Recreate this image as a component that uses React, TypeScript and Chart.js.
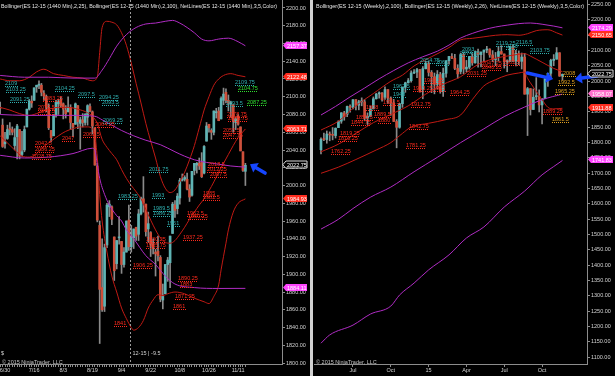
import React, { useEffect, useRef } from 'react';
import { Chart, registerables } from 'chart.js';

Chart.register(...registerables);

const FONT = '"Liberation Sans", Arial, Helvetica, sans-serif';

// ================= LEFT PANEL : ES 12-15 daily (1440 Min) =================
const dailyDates = ['6/26','6/29','6/30','7/1','7/2','7/3','7/6','7/7','7/8','7/9','7/10','7/13','7/14','7/15','7/16','7/17','7/20','7/21','7/22','7/23','7/24','7/27','7/28','7/29','7/30','7/31','8/3','8/4','8/5','8/6','8/7','8/10','8/11','8/12','8/13','8/14','8/17','8/18','8/19','8/20','8/21','8/24','8/25','8/26','8/27','8/28','8/31','9/1','9/2','9/3','9/4','9/7','9/8','9/9','9/10','9/11','9/14','9/15','9/16','9/17','9/18','9/21','9/22','9/23','9/24','9/25','9/28','9/29','9/30','10/1','10/2','10/5','10/6','10/7','10/8','10/9','10/12','10/13','10/14','10/15','10/16','10/19','10/20','10/21','10/22','10/23','10/26','10/27','10/28','10/29','10/30','11/2','11/3','11/4','11/5','11/6','11/9','11/10','11/11','11/12','11/13','11/16'];
const dailyTickDates = ['6/30','7/16','8/3','8/19','9/4','9/22','10/8','10/26','11/11'];

const dailyOpen = [2088,2068,2047,2053,2064,2063,2045,2055,2063,2035,
 2040,2066,2086,2095,2096,2111,2113,2113,2104,2100,
 2088,2062,2056,2079,2092,2097,2092,2085,2083,2088,
 2070,2069,2090,2070,2074,2071,2077,2089,2083,2065,
 2022,1955,1885,1864,1933,1976,1976,1942,1912,1941,
 1937,1911,1925,1961,1931,1941,1953,1945,1968,1985,
 1979,1951,1947,1934,1925,1926,1919,1871,1878,1911,
 1913,1946,1978,1974,1986,2006,2007,2007,1996,1989,
 2017,2023,2025,2026,2014,2050,2069,2062,2060,2082,
 2084,2075,2096,2105,2096,2092,2091,2071,2078,2066,
 2038,2016];
const dailyHigh = [2094,2075,2060,2068,2071,2066,2064,2069,2063,2061,
 2067,2086,2097,2101,2110,2113,2118,2115,2107,2102,
 2092,2062,2080,2096,2097,2100,2093,2090,2100,2091,
 2070,2093,2090,2077,2081,2081,2091,2092,2084,2065,
 2025,1960,1940,1934,1980,1983,1977,1942,1938,1965,
 1937,1930,1960,1978,1955,1951,1953,1973,1987,2010,
 1979,1970,1948,1940,1928,1943,1921,1889,1911,1919,
 1943,1981,1983,1991,2008,2013,2011,2014,2001,2016,
 2025,2026,2031,2037,2045,2071,2069,2064,2084,2087,
 2088,2100,2109.75,2109,2102,2095,2091,2077,2080,2066,
 2038,2025];
const dailyLow = [2081,2043,2042,2052,2057,2057,2040,2030,2030,2033,
 2038,2066,2085,2088,2096,2105,2109,2101,2096,2083,
 2063,2049,2056,2077,2080,2088,2075,2076,2083,2063,
 2055,2069,2064,2041,2066,2068,2068,2083,2058,2023,
 1959,1822,1858,1858,1930,1965,1956,1893,1906,1934,
 1901,1908,1925,1927,1925,1929,1938,1938,1967,1970,
 1943,1936,1920,1923,1898,1915,1869,1861,1878,1892,
 1885,1946,1964,1968,1979,2005,2005,1995,1982,1988,
 2012,2014,2018,2009,2013,2050,2060,2052,2057,2076,
 2073,2075,2091,2093,2084,2077,2060,2063,2068,2039,
 2016,2000];
const dailyClose = [2087,2044,2049,2063,2063,2060,2054,2067,2033,2038,
 2063,2086,2095,2093,2110,2113,2114,2105,2101,2088,
 2065,2054,2079,2094,2095,2090,2086,2081,2088,2071,
 2066,2092,2072,2074,2071,2080,2090,2084,2067,2023,
 1961,1883,1860,1930,1978,1979,1962,1904,1938,1941,
 1911,1925,1960,1931,1942,1951,1943,1968,1986,1980,
 1948,1957,1934,1930,1923,1921,1872,1875,1911,1916,
 1943,1979,1972,1988,2006,2007,2009,1996,1987,2016,
 2025,2025,2022,2010,2044,2067,2065,2060,2084,2083,
 2073,2098,2103,2096,2093,2093,2073,2075,2069,2039,
 2017,2022.75];

// Bollinger(2,25) – [bar index, value]
const dailyBB25Upper = [[0,2120],[4,2118],[8,2118],[12,2122],[15,2128],[18,2131],[22,2126],[26,2124],[30,2122],[34,2121],[38,2118],[40,2122],[41,2150],[42,2178],[44,2185],[46,2184],[48,2181],[50,2172],[52,2158],[54,2138],[56,2115],[58,2093],[60,2070],[62,2050],[64,2031],[66,2010],[68,1997],[70,1992],[72,1995],[74,2004],[76,2015],[78,2029],[80,2045],[82,2065],[84,2085],[86,2100],[88,2113],[90,2120],[92,2124],[95,2126],[98,2124],[101,2122.48]];
const dailyBB25Mid = [[0,2088],[4,2085],[8,2081],[12,2079],[16,2082],[20,2086],[24,2088],[28,2088],[32,2086],[36,2082],[38,2078],[40,2070],[42,2052],[44,2043],[46,2036],[48,2029],[50,2018],[52,2008],[54,2000],[56,1993],[58,1985],[60,1973],[62,1961],[64,1950],[66,1941],[68,1936],[70,1935],[72,1938],[74,1945],[76,1953],[78,1962],[80,1970],[82,1978],[84,1985],[86,1994],[88,2004],[90,2015],[92,2025],[94,2035],[96,2045],[98,2054],[101,2063.71]];
const dailyBB25Lower = [[0,2056],[3,2048],[6,2040],[9,2033],[12,2032],[15,2036],[18,2044],[21,2050],[24,2056],[27,2061],[30,2064],[33,2066],[36,2066],[38,2064],[39,2055],[40,2032],[41,1990],[42,1960],[44,1925],[46,1898],[48,1880],[50,1862],[52,1850],[54,1840],[55,1837],[57,1840],[59,1848],[61,1862],[63,1871],[65,1877],[67,1876],[69,1878],[72,1880],[76,1878],[80,1873],[84,1869],[86,1867],[88,1875],[90,1888],[91,1905],[93,1935],[94,1950],[96,1970],[98,1980],[101,1984.93]];
// Bollinger(2,100)
const dailyBB100Upper = [[0,2124],[10,2122],[20,2122],[30,2121],[39,2121],[42,2130],[45,2143],[48,2157],[52,2170],[56,2178],[60,2182],[64,2183],[68,2185],[71,2186],[74,2183],[77,2178],[80,2172],[83,2165],[86,2163],[90,2165],[94,2166],[98,2162],[101,2157.37]];
const dailyBB100Mid = [[0,2080],[10,2079],[20,2079],[30,2079],[39,2078],[42,2074],[46,2068],[50,2062],[55,2056],[60,2051],[66,2046],[72,2038],[76,2033],[80,2029],[85,2026],[90,2024],[95,2022],[101,2020.7]];
const dailyBB100Lower = [[0,2034],[10,2031],[20,2032],[30,2036],[38,2042],[39,2040],[40,2024],[41,2008],[43,1990],[45,1978],[48,1966],[50,1960],[52,1950],[55,1940],[60,1921],[64,1911],[68,1898],[72,1889],[80,1885],[90,1884],[101,1884.11]];

const dailyYTicks = [1800,1820,1840,1860,1880,1900,1920,1940,1960,1980,2000,2020,2040,2060,2080,2100,2120,2140,2160,2180,2200];

// swing labels: text, bar index, price, colour
const dailyLabels = [
  ['2109',2.0,2115.5,'t'],['2103.25',2.4,2108.7,'t'],['2091.25',4.1,2097.5,'t'],
  ['2083.25',17.7,2098.6,'r'],['2077.5',15.6,2088.5,'r'],['2073.5',15.6,2084,'r'],
  ['2104.25',22.6,2109.9,'t'],['2097.5',32.1,2103.1,'t'],['2094.25',40.7,2099.7,'t'],
  ['2093.5',42.0,2094,'t'],['2069.25',42.4,2073.8,'t'],['2064.25',39.1,2069.3,'r'],
  ['2062.5',34.1,2058,'r'],['2047',25.5,2053.5,'r'],['2042.5',14.4,2047.9,'r'],
  ['2036.25',14.4,2041.1,'r'],['2028.75',13.1,2033.2,'r'],
  ['2109.75',96.7,2116.6,'t'],['2104.75',98.0,2109.9,'g'],['2093.5',93.0,2093,'t'],
  ['2087.25',101.7,2094.1,'g'],['2078.75',93.4,2080.6,'r'],['2073.75',93.8,2076.1,'r'],
  ['2055.5',91.8,2062.5,'r'],['2047.75',91.8,2056.9,'r'],
  ['2018.5',85.6,2024.2,'r'],['2012.25',85.2,2018.6,'r'],['2007.5',86.4,2013,'r'],
  ['2011.75',61.5,2018.6,'t'],['1993',62.5,1989.3,'t'],['1989.5',62.9,1974.6,'t'],['1986.25',62.9,1969,'t'],
  ['1985',83.5,1991.6,'r'],['1982.5',83.5,1987,'r'],['1962.5',77.0,1969,'r'],['1960.25',77.4,1965.6,'r'],
  ['1951',68.7,1957.7,'t'],['1937.25',75.3,1942,'r'],['1930.25',60.1,1939.7,'r'],['1925.75',60.1,1933,'r'],
  ['1890.25',73.3,1895.8,'r'],['1883',74.1,1889,'r'],['1871.25',72.0,1875.5,'r'],['1861',71.2,1864.2,'r'],
  ['1983.25',48.5,1988.2,'t'],['1906.25',54.7,1910.4,'r'],['1841',46.9,1845.1,'r'],
];
const dailyTags = [[2157.37,'m'],[2122.48,'r'],[2063.71,'r'],[2022.75,'c'],[1984.93,'r'],[1884.11,'m']];
const dailyArrows = [[109.1,2014,102.9,2024]];

// ================= RIGHT PANEL : ES 12-15 weekly =================
const weeklyDates = ['4/18/14','4/25/14','5/2/14','5/9/14','5/16/14','5/23/14','5/30/14','6/6/14','6/13/14','6/20/14','6/27/14','7/4/14','7/11/14','7/18/14','7/25/14','8/1/14','8/8/14','8/15/14','8/22/14','8/29/14','9/5/14','9/12/14','9/19/14','9/26/14','10/3/14','10/10/14','10/17/14','10/24/14','10/31/14','11/7/14','11/14/14','11/21/14','11/28/14','12/5/14','12/12/14','12/19/14','12/26/14',
 '1/2/15','1/9/15','1/16/15','1/23/15','1/30/15','2/6/15','2/13/15','2/20/15','2/27/15','3/6/15','3/13/15','3/20/15','3/27/15','4/3/15','4/10/15','4/17/15','4/24/15','5/1/15','5/8/15','5/15/15','5/22/15','5/29/15','6/5/15','6/12/15','6/19/15','6/26/15','7/3/15','7/10/15','7/17/15','7/24/15','7/31/15','8/7/15','8/14/15','8/21/15','8/28/15','9/4/15','9/11/15','9/18/15','9/25/15','10/2/15','10/9/15','10/16/15','10/23/15','10/30/15','11/6/15','11/13/15','11/20/15'];
const monthNames = ['Jan','Feb','Mar','Apr','May','Jun','Jul','Aug','Sep','Oct','Nov','Dec'];

const weeklyOpen = [1777,1812,1810,1827,1827,1823,1849,1870,1897,
 1892,1917,1915,1940,1922,1933,1933,1880,1886,1910,1943,1959,1962,
 1948,1973,1945,1930,1869,1850,1927,1981,1995,2002,2027,2030,2038,
 1973,2041,2059,2029,2015,1990,2022,1966,2026,2067,2081,2075,2042,
 2032,2087,2040,2046,2081,2060,2096,2087,2095,2102,2105,2086,2071,
 2081,2097,2089,2064,2064,2114,2066,2091,2065,2079,1958,1976,1908,
 1950,1950,1923,1943,2008,2026,2068,2072,2093,2017];
const weeklyHigh = [1816,1831,1838,1835,1849,1848,1871,1898,1902,
 1919,1923,1940,1940,1938,1946,1940,1897,1919,1949,1961,1966,1963,
 1982,1973,1949,1941,1875,1928,1981,1997,2009,2034,2038,2042,2039,
 2048,2065,2065,2035,2027,2035,2029,2043,2067,2081,2090,2088,2054,
 2092,2093,2068,2081,2090,2099,2105,2096,2102,2114,2106,2100,2094,
 2114,2116,2089,2070,2114,2120,2101,2099,2092,2091,1980,1976,1975,
 2012,1972,1943,2014,2027,2072,2087,2110,2093,2024];
const weeklyLow = [1763,1806,1798,1806,1809,1815,1849,1863,1873,
 1885,1899,1910,1907,1907,1920,1871,1859,1884,1910,1942,1945,1935,
 1941,1928,1889,1869,1783,1847,1915,1964,1994,1997,2025,2012,1965,
 1943,2040,2017,1963,1959,1975,1961,1951,2013,2056,2074,2038,2010,
 2024,2025,2031,2040,2052,2059,2046,2047,2065,2093,2078,2064,2051,
 2066,2088,2043,2031,2064,2064,2050,2054,2040,1958,1823,1890,1908,
 1940,1900,1861,1943,1983,2010,2051,2072,2016,2004];
const weeklyClose = [1811,1810,1828,1825,1824,1847,1870,1897,1884,
 1918,1915,1940,1922,1933,1933,1880,1886,1910,1943,1958,1962,1940,
 1973,1945,1930,1869,1850,1927,1981,1995,2002,2027,2030,2038,1965,
 2041,2059,2029,2015,1990,2022,1966,2026,2067,2081,2075,2042,2024,
 2087,2040,2046,2081,2060,2096,2087,2095,2102,2105,2086,2071,2073,
 2097,2089,2064,2064,2114,2066,2091,2065,2079,1958,1976,1908,1948,
 1950,1923,1943,2008,2026,2068,2072,2093,2017,2022.75];

// Bollinger(2,100)
const weeklyBB100Upper = [[0,1890],[5,1918],[10,1949],[15,1978],[20,2008],[25,2035],[30,2060],[35,2080],[40,2098],[44,2118],[48,2141],[52,2156],[56,2168],[60,2177],[64,2183],[68,2188],[72,2190],[76,2186],[80,2180],[83,2174.29]];
const weeklyBB100Mid = [[0,1518],[6,1550],[11,1585],[17,1622],[24,1655],[32,1705],[40,1752],[48,1800],[56,1845],[63,1885],[70,1916],[76,1940],[83,1958.07]];
const weeklyBB100Lower = [[0,1146],[3,1173],[11,1205],[17,1241],[24,1267],[27,1303],[32,1342],[37,1385],[44,1434],[50,1489],[56,1525],[63,1590],[70,1642],[76,1695],[80,1722],[83,1741.83]];
// Bollinger(2,26)
const weeklyBB26Upper = [[0,1841],[6,1870],[12,1920],[18,1960],[24,2000],[28,2020],[32,2050],[38,2080],[44,2110],[48,2135],[52,2140],[56,2145],[60,2150],[64,2152],[68,2150],[71,2155],[74,2165],[78,2168],[81,2158],[83,2150.65]];
const weeklyBB26Mid = [[0,1770],[6,1795],[12,1830],[18,1865],[24,1892],[30,1920],[36,1958],[42,1990],[48,2015],[54,2055],[60,2075],[66,2085],[70,2090],[72,2082],[76,2062],[80,2042],[83,2031.3]];
const weeklyBB26Lower = [[0,1700],[6,1720],[12,1745],[19,1776],[24,1800],[28,1830],[31,1851],[37,1863],[43,1875],[48,1890],[52,1940],[56,1985],[60,2005],[64,2020],[68,2027],[70,2030],[71,2010],[73,1981],[76,1940],[78,1915],[80,1910],[83,1911.88]];

const weeklyYTicks = [1100,1150,1200,1250,1300,1350,1400,1450,1500,1550,1600,1650,1700,1750,1800,1850,1900,1950,2000,2050,2100,2150,2200,2250];

const weeklyLabels = [
  ['1762.25',3.4,1772.6,'r'],['1819.25',6.5,1831.3,'r'],['1810.25',5.8,1815,'r'],
  ['1844.75',10.3,1867.3,'r'],['1853.5',12.0,1883.5,'r'],['1908',15.4,1916.2,'r'],
  ['1889.5',18.2,1893.4,'r'],['1880',19.5,1873.9,'r'],['1921.5',21.2,1932.4,'r'],
  ['1962.5',24.7,1984.6,'t'],['1948',24.7,1958.5,'t'],['1912.75',30.8,1925.9,'r'],
  ['1842.75',30.1,1854.2,'r'],['1781.25',29.1,1792.2,'r'],['1963.25',31.8,1978,'r'],
  ['1965',38.4,1978,'r'],['2054.75',34.2,2069.3,'t'],['2061',39.4,2062.8,'t'],
  ['1982.25',35.3,2004.2,'r'],['1964.25',44.5,1965.1,'r'],['2093',48.6,2105.2,'t'],
  ['2074.75',47.9,2092.2,'t'],['2047.25',55.5,2059.6,'r'],['2040.25',55.5,2046.6,'r'],
  ['2031.25',50.3,2027,'r'],['2119.25',60.3,2124.8,'t'],['2110',63.7,2115,'t'],
  ['2116.5',67.1,2128,'t'],['2103.75',71.9,2102,'t'],['2062.5',62.7,2063,'r'],
  ['2008',83.2,2027,'o'],['1992.5',81.5,1997.6,'o'],['1965.25',80.5,1968.3,'o'],
  ['1889.25',76.4,1903,'r'],['1861.5',79.5,1877,'o'],
];
const weeklyTags = [[2174.29,'m'],[2150.65,'r'],[2022.75,'c'],[1958.07,'p'],[1911.88,'r'],[1741.83,'m']];
const weeklyArrows = [[70.9,2027,79.8,2007.5],[94.9,2017,87.3,2007.5]];

// ================= styling =================
const UP = '#5fb4b4';
const DOWN = '#cf4f3a';
const WICK = '#8a8a8a';
const RED_LINE = '#c01a14';
const MAG_LINE = '#b02cc4';
const AXIS = '#8c8c8c';
const TICK_TXT = '#d2d2d2';
const BLUE = '#1646ff';
const LABEL_COL = { t: '#2fb0b0', r: '#ff2a1c', g: '#2ee02e', o: '#e0a020' };
const TAG_COL = { m: ['#ff45ff', '#ffffff'], r: ['#ff2d1f', '#ffffff'], p: ['#ff70cc', '#ffffff'], c: ['#000000', '#ffffff'] };

function candleSets(o, h, l, c) {
  const idx = o.map((_, i) => i);
  return [
    { type: 'bar', data: idx.map(i => ({ x: i, y: [l[i], h[i]] })), backgroundColor: WICK, barThickness: 1, grouped: false, borderWidth: 0, order: 3 },
    { type: 'bar', data: idx.map(i => ({ x: i, y: [o[i], c[i]] })), backgroundColor: idx.map(i => (c[i] >= o[i] ? UP : DOWN)), barThickness: 2, minBarLength: 1, grouped: false, borderWidth: 0, order: 2 },
  ];
}
function lineSet(pts, color) {
  return { type: 'line', data: pts.map(([x, y]) => ({ x, y })), borderColor: color, borderWidth: 1, pointRadius: 0, fill: false, cubicInterpolationMode: 'monotone', order: 1 };
}

function drawArrow(ctx, x1, y1, x2, y2) {
  const a = Math.atan2(y2 - y1, x2 - x1);
  const hl = 7, hw = 5.5;
  const bx = x2 - hl * Math.cos(a), by = y2 - hl * Math.sin(a);
  ctx.strokeStyle = BLUE; ctx.lineWidth = 3.5; ctx.lineCap = 'round';
  ctx.beginPath(); ctx.moveTo(x1, y1); ctx.lineTo(bx, by); ctx.stroke();
  ctx.fillStyle = BLUE;
  ctx.beginPath(); ctx.moveTo(x2, y2);
  ctx.lineTo(bx + hw * Math.sin(a), by - hw * Math.cos(a));
  ctx.lineTo(bx - hw * Math.sin(a), by + hw * Math.cos(a));
  ctx.closePath(); ctx.fill();
}

function overlay(o) {
  return {
    id: 'overlay',
    afterDatasetsDraw(chart) {
      const { ctx, chartArea: ca, scales: { x, y } } = chart;
      ctx.save();
      ctx.beginPath(); ctx.rect(ca.left, ca.top, ca.right - ca.left, ca.bottom - ca.top); ctx.clip();
      if (o.crosshair != null) {
        const cx = Math.round(x.getPixelForValue(o.crosshair)) + 0.5;
        ctx.strokeStyle = '#9a9a9a'; ctx.lineWidth = 1; ctx.setLineDash([2, 2]);
        ctx.beginPath(); ctx.moveTo(cx, ca.top); ctx.lineTo(cx, ca.bottom); ctx.stroke();
        ctx.setLineDash([]);
        ctx.font = `5.5px ${FONT}`; ctx.fillStyle = '#cfcfcf'; ctx.textBaseline = 'middle'; ctx.textAlign = 'left';
        ctx.fillText(o.crossText, cx + 2, ca.bottom - 11);
        ctx.fillText('$', ca.left + 1, ca.bottom - 11);
      }
      ctx.font = `5.5px ${FONT}`; ctx.textBaseline = 'middle'; ctx.textAlign = 'left';
      for (const [t, i, v, k] of o.labels) {
        const px = Math.round(x.getPixelForValue(i));
        const py = Math.round(y.getPixelForValue(v));
        ctx.fillStyle = LABEL_COL[k];
        ctx.fillText(t, px, py);
        const w = ctx.measureText(t).width;
        for (let d = 0; d < w; d += 2) ctx.fillRect(px + d, py + 3, 1, 1);
      }
      ctx.restore();
    },
    afterDraw(chart) {
      const { ctx, chartArea: ca, scales: { x, y } } = chart;
      ctx.save();
      for (const [i1, v1, i2, v2] of o.arrows) {
        drawArrow(ctx, x.getPixelForValue(i1), y.getPixelForValue(v1), x.getPixelForValue(i2), y.getPixelForValue(v2));
      }
      // price tags on the axis
      ctx.font = `5.5px ${FONT}`; ctx.textBaseline = 'middle'; ctx.textAlign = 'left';
      for (const [v, k] of o.tags) {
        const py = Math.round(y.getPixelForValue(v)) - 0.5;
        const x0 = ca.right + 1, w = o.tagWidth, h = 7;
        ctx.beginPath();
        ctx.moveTo(x0, py); ctx.lineTo(x0 + 3, py - h / 2); ctx.lineTo(x0 + w, py - h / 2);
        ctx.lineTo(x0 + w, py + h / 2); ctx.lineTo(x0 + 3, py + h / 2); ctx.closePath();
        ctx.fillStyle = TAG_COL[k][0]; ctx.fill();
        if (k === 'c') { ctx.strokeStyle = '#d8d8d8'; ctx.lineWidth = 1; ctx.stroke(); }
        ctx.fillStyle = TAG_COL[k][1];
        ctx.fillText(v.toFixed(2), x0 + 4, py + 0.5);
      }
      // title
      ctx.font = `6px ${FONT}`; ctx.fillStyle = '#e6e6e6'; ctx.textBaseline = 'middle';
      const tw = ctx.measureText(o.title).width;
      const sx = Math.min(1, o.titleWidth / tw);
      ctx.save(); ctx.translate(ca.left + o.titleX, 6); ctx.scale(sx, 1); ctx.fillText(o.title, 0, 0); ctx.restore();
      // copyright
      ctx.font = `5.5px ${FONT}`; ctx.fillStyle = '#c4c4c4';
      ctx.fillText('\u00a9 2015 NinjaTrader, LLC', ca.left + 2, ca.bottom - 2);
      ctx.restore();
    },
  };
}

function makeConfig(p) {
  return {
    type: 'bar',
    data: {
      datasets: [
        ...p.lines.map(([pts, c]) => lineSet(pts, c)),
        ...candleSets(p.open, p.high, p.low, p.close),
      ],
    },
    options: {
      animation: false,
      responsive: false,
      devicePixelRatio: 1,
      layout: { padding: { left: p.padLeft, right: 0, top: 0, bottom: 0 } },
      plugins: { legend: { display: false }, tooltip: { enabled: false }, title: { display: false } },
      scales: {
        x: {
          type: 'linear', min: p.xmin, max: p.xmax, offset: false,
          afterBuildTicks: (s) => { s.ticks = p.xTicks.map((v) => ({ value: v })); },
          afterFit: (s) => { s.height = 12; s.paddingLeft = 0; s.paddingRight = 0; },
          ticks: {
            autoSkip: false, maxRotation: 0, minRotation: 0, padding: 0,
            color: TICK_TXT, font: { family: FONT, size: 5.5 },
            callback: (v) => p.xLabel(v),
          },
          grid: { display: true, drawOnChartArea: false, drawTicks: true, tickLength: 3, color: AXIS, offset: false },
          border: { display: true, color: AXIS },
        },
        y: {
          type: 'linear', position: 'right', min: p.ymin, max: p.ymax,
          afterBuildTicks: (s) => { s.ticks = p.yTicks.map((v) => ({ value: v })); },
          afterFit: (s) => { s.width = p.yWidth; s.paddingTop = 0; s.paddingBottom = 0; },
          ticks: { color: TICK_TXT, padding: 1, font: { family: FONT, size: 5.5 }, callback: (v) => Number(v).toFixed(2) },
          grid: { display: true, drawOnChartArea: false, drawTicks: true, tickLength: 3, color: AXIS },
          border: { display: true, color: AXIS },
        },
      },
    },
    plugins: [overlay(p.overlay)],
  };
}

function leftConfig() {
  return makeConfig({
    open: dailyOpen, high: dailyHigh, low: dailyLow, close: dailyClose,
    lines: [
      [dailyBB100Upper, MAG_LINE], [dailyBB100Mid, MAG_LINE], [dailyBB100Lower, MAG_LINE],
      [dailyBB25Upper, RED_LINE], [dailyBB25Mid, RED_LINE], [dailyBB25Lower, RED_LINE],
    ],
    xmin: -0.06, xmax: 116.08, ymin: 1798.9, ymax: 2209,
    xTicks: dailyDates.map((_, i) => i),
    xLabel: (v) => (dailyTickDates.includes(dailyDates[v]) ? dailyDates[v] : ''),
    yTicks: dailyYTicks, yWidth: 26, padLeft: 0,
    overlay: {
      labels: dailyLabels, tags: dailyTags, arrows: dailyArrows, tagWidth: 24,
      title: 'Bollinger(ES 12-15 (1440 Min),2,25), Bollinger(ES 12-15 (1440 Min),2,100), NetLines(ES 12-15 (1440 Min),3,5,Color)',
      titleX: 1, titleWidth: 276,
      crosshair: 53.5, crossText: '12-15 | -9.5',
    },
  });
}

function weeklyLabel(i) {
  const d = weeklyDates[i];
  if (!d || i === 0) return '';
  const [m, , yy] = d.split('/').map(Number);
  const pm = Number(weeklyDates[i - 1].split('/')[0]);
  if (m === pm || ![1, 4, 7, 10].includes(m)) return '';
  return m === 1 ? String(yy) : monthNames[m - 1];
}

function rightConfig() {
  return makeConfig({
    open: weeklyOpen, high: weeklyHigh, low: weeklyLow, close: weeklyClose,
    lines: [
      [weeklyBB100Upper, MAG_LINE], [weeklyBB100Mid, MAG_LINE], [weeklyBB100Lower, MAG_LINE],
      [weeklyBB26Upper, RED_LINE], [weeklyBB26Mid, RED_LINE], [weeklyBB26Lower, RED_LINE],
    ],
    xmin: -2.4, xmax: 91.44, ymin: 1078.2, ymax: 2265,
    xTicks: weeklyDates.map((_, i) => i).filter((i) => weeklyLabel(i) !== ''),
    xLabel: (v) => weeklyLabel(v),
    yTicks: weeklyYTicks, yWidth: 28, padLeft: 1,
    overlay: {
      labels: weeklyLabels, tags: weeklyTags, arrows: weeklyArrows, tagWidth: 25,
      title: 'Bollinger(ES 12-15 (Weekly),2,100), Bollinger(ES 12-15 (Weekly),2,26), NetLines(ES 12-15 (Weekly),3,5,Color)',
      titleX: 2, titleWidth: 268,
      crosshair: null, crossText: '',
    },
  });
}

export default function App() {
  const leftRef = useRef(null);
  const rightRef = useRef(null);
  useEffect(() => {
    const c1 = new Chart(leftRef.current, leftConfig());
    const c2 = new Chart(rightRef.current, rightConfig());
    return () => { c1.destroy(); c2.destroy(); };
  }, []);
  return (
    <div style={{ position: 'fixed', left: 0, top: 0, width: 615, height: 376, background: '#000', overflow: 'hidden' }}>
      <canvas ref={leftRef} width={308} height={376} style={{ position: 'absolute', left: 0, top: 0, width: 308, height: 376 }} />
      <div style={{ position: 'absolute', left: 310, top: 0, width: 3, height: 376, background: '#d0d0d0' }} />
      <canvas ref={rightRef} width={302} height={376} style={{ position: 'absolute', left: 313, top: 0, width: 302, height: 376 }} />
    </div>
  );
}
